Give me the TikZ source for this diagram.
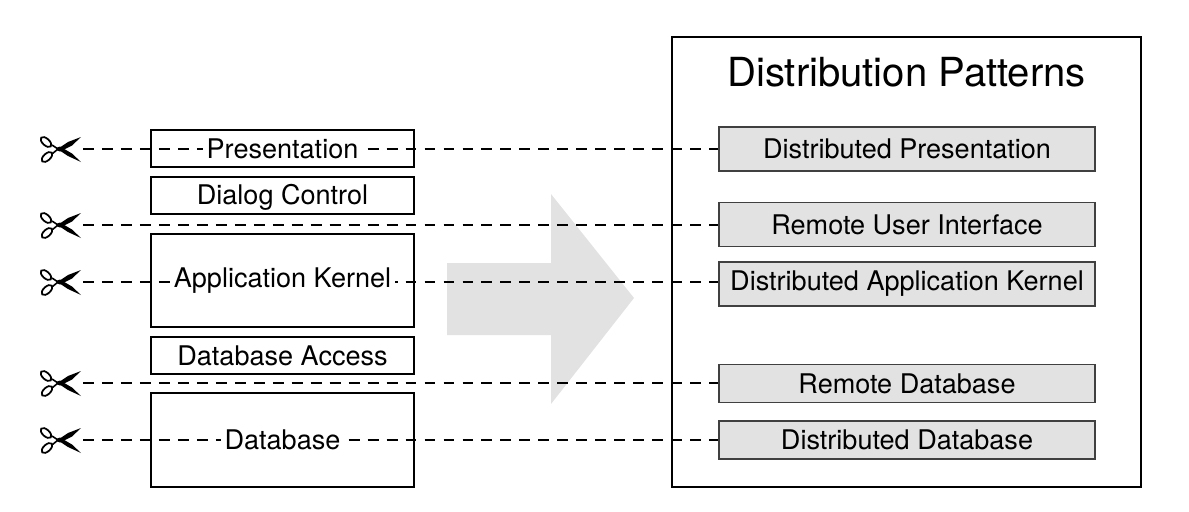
\documentclass[tikz,border=0pt]{standalone}
\usepackage{fontspec}
\setmainfont{TeX Gyre Heros}
\definecolor{patterngray}{HTML}{E2E2E2}
\tikzset{
  layerbox/.style={draw, line width=1.2pt, minimum width=263*0.02cm, inner sep=0pt},
  layerlabel/.style={fill=white, inner sep=2pt, font=\fontsize{15.4}{17}\selectfont},
  patternbox/.style={draw=black!75, fill=patterngray, line width=0.6pt, minimum width=376*0.02cm, inner sep=0pt, font=\fontsize{15.4}{17}\selectfont},
  cutline/.style={line width=1.3pt, dash pattern=on 6.2pt off 4.6pt},
  pics/scissors/.style={code={
    \fill (-2,1) -- (10,-7) -- (23,-12) -- (14,-3.5) -- (2,2.5) -- cycle;
    \fill (-2,-1) -- (10,7) -- (23,13) -- (14,4.5) -- (2,-2.5) -- cycle;
    \draw[line width=0.9pt] (0,0) -- (-6,-4) (0,0) -- (-6,5);
    \draw[line width=1pt, shift={(-12,-7)}, rotate=-42] (0,0) ellipse (6.5 and 3.4);
    \draw[line width=1pt, shift={(-11,8)}, rotate=42] (0,0) ellipse (6.5 and 3.4);
  }}
}
\begin{document}
\begin{tikzpicture}[x=0.02cm, y=-0.02cm]
\useasboundingbox (0,0) rectangle (1189,511);

% big arrow
\fill[patterngray] (447,263) -- (551,263) -- (551,194) -- (634,298) -- (551,404) -- (551,335) -- (447,335) -- cycle;

% frame on the right
\draw[line width=1.2pt] (672,37) rectangle (1141,487);
\node[font=\fontsize{22.8}{26}\selectfont] (title) at (906.5,72) {Distribution Patterns};

% layers
\node[layerbox, minimum height=37*0.02cm] (presentation) at (282.5,148.5) {};
\node[layerbox, minimum height=37*0.02cm] (dialog) at (282.5,195.5) {};
\node[layerbox, minimum height=93*0.02cm] (kernel) at (282.5,280.5) {};
\node[layerbox, minimum height=37*0.02cm] (access) at (282.5,355.5) {};
\node[layerbox, minimum height=94*0.02cm] (database) at (282.5,440) {};

% patterns
\node[patternbox, minimum height=44*0.02cm] (distpres) at (907,149) {Distributed Presentation};
\node[patternbox, minimum height=44*0.02cm] (remoteui) at (907,224.5) {Remote User Interface};
\node[patternbox, minimum height=44*0.02cm] (distkernel) at (907,284) {Distributed Application Kernel};
\node[patternbox, minimum height=38*0.02cm] (remotedb) at (907,383.5) {Remote Database};
\node[patternbox, minimum height=38*0.02cm] (distdb) at (907,440) {Distributed Database};

% cuts
\foreach \name/\target/\ycut in {a/distpres/149, b/remoteui/225, c/distkernel/282, d/remotedb/383, e/distdb/440} {
  \coordinate (cut\name) at (83,\ycut);
  \pic at (58,\ycut) {scissors};
  \draw[cutline] (cut\name) -- (cut\name -| \target.west);
}

% labels over the cuts
\node[layerlabel] at (presentation) {Presentation};
\node[layerlabel, fill=none] at (282.5,197) {Dialog Control};
\node[layerlabel] at (282.5,281) {Application Kernel};
\node[layerlabel] at (access) {Database Access};
\node[layerlabel] at (database) {Database};
\end{tikzpicture}
\end{document}
